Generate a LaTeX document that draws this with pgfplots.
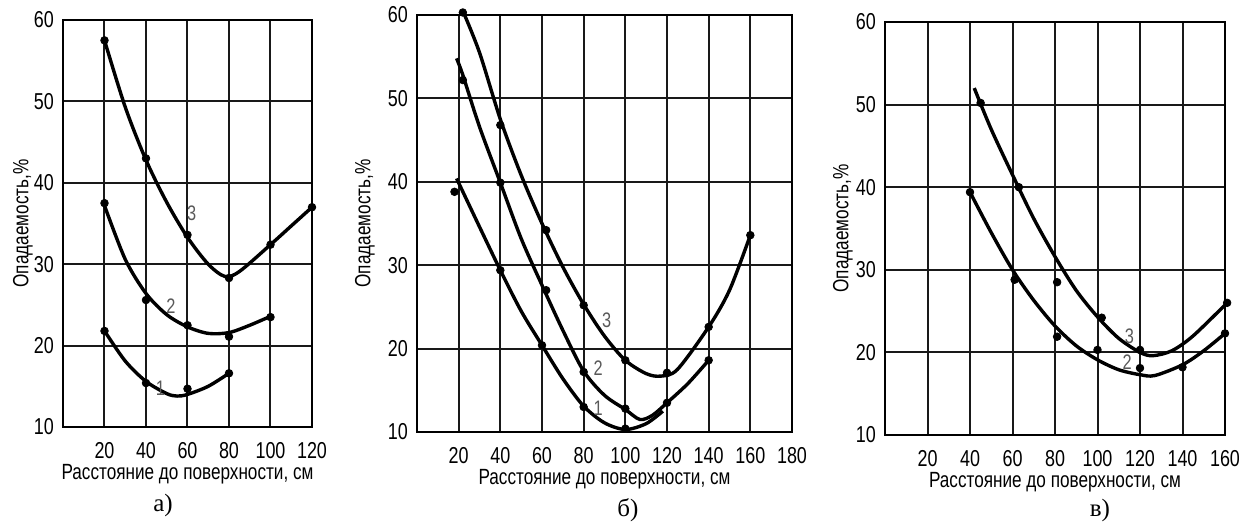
\documentclass[border=0pt]{standalone}
\usepackage{pgfplots}
\pgfplotsset{compat=1.18}
\usepackage{fontspec}
\setmainfont{Liberation Sans}[FakeStretch=0.78]
\newfontfamily\capfont{Liberation Serif}
\tikzset{num/.style={font=\fontsize{10.5}{11}\selectfont, text=black!65}}
\begin{document}
\begin{tikzpicture}[x=1pt,y=1pt]
\path[use as bounding box] (0,0) rectangle (619.5,262);
\pgfplotsset{
  panel/.style={
    scale only axis, anchor=south west, clip=false,
    ymin=10, ymax=60, ytick={10,20,...,60},
    grid=major, major grid style={black!90, line width=1.0pt},
    axis line style={black, line width=1.4pt},
    major tick length=0pt, tick style={draw=none},
    /pgf/number format/assume math mode=true,
    ticklabel style={font=\fontsize{11.5}{12}\selectfont},
    xticklabel style={yshift=-4pt},
    yticklabel style={xshift=-1pt},
    xlabel style={font=\fontsize{11}{12}\selectfont, yshift=4pt},
    ylabel style={font=\fontsize{11}{12}\selectfont},
    xlabel={Расстояние до поверхности, см},
    ylabel={Опадаемость,\%},
  },
  curve/.style={black, line width=1.7pt, smooth, no marks},
  pts/.style={black, only marks, mark=*, mark size=1.9pt},
}
% ---- panel a
\begin{axis}[panel, at={(31.5pt,48.5pt)}, width=124.5pt, height=203.5pt,
  xmin=0, xmax=120, xtick={20,40,...,120},
  ylabel style={at={(axis description cs:0,0.5)}, anchor=center, yshift=20pt}]
\addplot[curve] coordinates {(20,57.5)(30,49.3)(40,42.8)(50,37.6)(60,33.3)(70,30.0)(78,28.5)(85,29.1)(100,32.4)(110,34.7)(120,37.0)};
\addplot[pts] coordinates {(20,57.5)(40,43)(60,33.6)(80,28.3)(100,32.4)(120,37)};
\addplot[curve] coordinates {(20,37.2)(30,30.6)(40,26.4)(50,23.8)(60,22.3)(70,21.5)(80,21.6)(90,22.5)(100,23.6)};
\addplot[pts] coordinates {(20,37.5)(40,25.6)(60,22.5)(80,21.1)(100,23.5)};
\addplot[curve] coordinates {(20,21.8)(30,18.1)(40,15.6)(50,14.1)(55,13.8)(60,14.0)(70,15.0)(80,16.6)};
\addplot[pts] coordinates {(20,21.8)(40,15.4)(60,14.7)(80,16.6)};
\node[num] at (axis cs:62,36.2) {3};
\node[num] at (axis cs:52,24.8) {2};
\node[num] at (axis cs:47,14.8) {1};
\end{axis}
% ---- panel b
\begin{axis}[panel, at={(208.5pt,46pt)}, width=187.5pt, height=208.5pt,
  xmin=0, xmax=180, xtick={20,40,...,180},
  ylabel style={at={(axis description cs:0,0.5)}, anchor=center, yshift=26pt}]
\addplot[curve] coordinates {(22,60.5)(30,55.5)(40,47.5)(50,40.8)(60,35)(70,29.8)(80,25.3)(90,21.5)(100,18.6)(110,17)(117,16.7)(125,17.5)(140,22.6)(150,27)(160,33.6)};
\addplot[pts] coordinates {(22,60.3)(40,46.8)(62,34.2)(80,25.2)(100,18.6)(120,17.1)(140,22.6)(160,33.6)};
\addplot[curve] coordinates {(19,54.8)(22,52.8)(30,46.6)(40,39.9)(50,33.2)(60,27.6)(70,22.2)(80,17.3)(90,14.4)(100,12.7)(107,11.5)(113,12.0)(120,13.5)(130,15.8)(140,18.6)};
\addplot[pts] coordinates {(22,52.2)(40,39.9)(62,27)(80,17.2)(100,12.8)(120,13.5)(140,18.6)};
\addplot[curve] coordinates {(19,40.4)(30,34.6)(40,29.4)(50,24.5)(60,20.4)(70,16.4)(80,13.1)(90,11.1)(100,10.3)(110,11)(118,12.5)};
\addplot[pts] coordinates {(18,38.8)(40,29.4)(60,20.4)(80,13)(100,10.4)};
\node[num] at (axis cs:91,23.4) {3};
\node[num] at (axis cs:87,17.7) {2};
\node[num] at (axis cs:87,12.9) {1};
\end{axis}
% ---- panel c
\begin{axis}[panel, at={(442.5pt,44.5pt)}, width=170pt, height=206.5pt,
  xmin=0, xmax=160, xtick={20,40,...,160},
  ylabel style={at={(axis description cs:0,0.5)}, anchor=center, yshift=21pt}]
\addplot[curve] coordinates {(42,52)(50,47)(60,41.5)(70,36.2)(80,31.6)(90,27.5)(100,24.3)(110,21.7)(120,20.0)(126,19.6)(135,20.2)(145,22)(161,26)};
\addplot[pts] coordinates {(45,50.2)(63,40)(81,28.5)(102,24.2)(120,20.3)(161,26)};
\addplot[curve] coordinates {(40,39.4)(50,34.5)(60,30)(70,26.3)(80,23.2)(90,20.8)(100,19.1)(110,17.9)(120,17.3)(127,17.2)(140,18.5)(150,20.2)(160,22.3)};
\addplot[pts] coordinates {(40,39.4)(61,28.8)(81,21.9)(100,20.3)(120,18.1)(140,18.2)(160,22.3)};
\node[num] at (axis cs:115,22) {3};
\node[num] at (axis cs:114,18.8) {2};
\end{axis}
\node[font=\capfont\fontsize{12.5}{13}\selectfont] at (81.5,9.5) {а)};
\node[font=\capfont\fontsize{12.5}{13}\selectfont] at (314,7) {б)};
\node[font=\capfont\fontsize{12.5}{13}\selectfont] at (550,7) {в)};
\end{tikzpicture}
\end{document}
